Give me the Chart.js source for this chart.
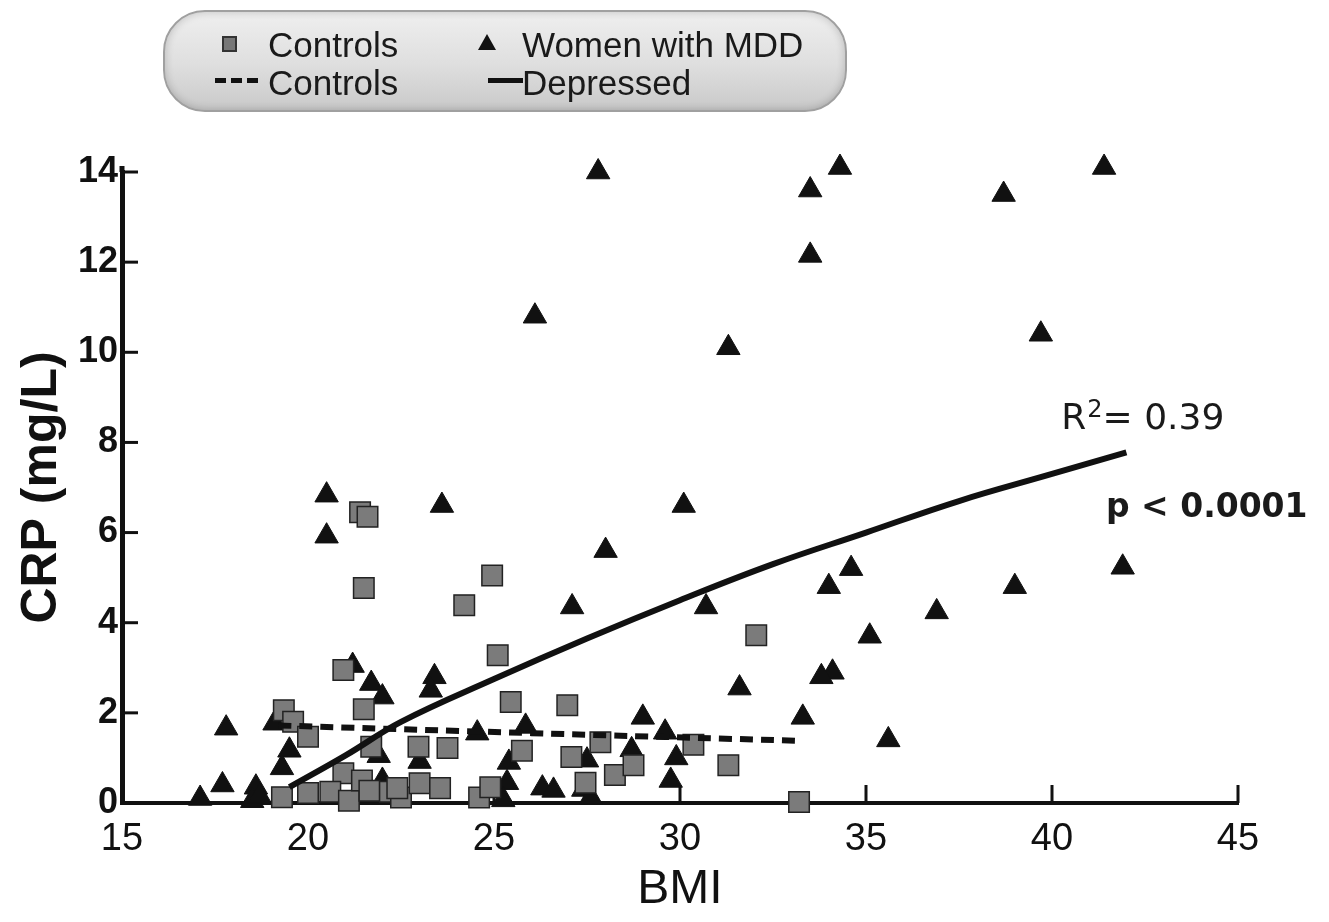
<!DOCTYPE html>
<html>
<head>
<meta charset="utf-8">
<script src="https://cdn.jsdelivr.net/npm/chart.js@4.4.1/dist/chart.umd.min.js"></script>
<style>
  body { margin: 0; background: #fff; font-family: "Liberation Sans", Arial, sans-serif; }
  #wrap { position: relative; width: 1329px; height: 922px; }
  #chart { position: absolute; left: 0; top: 0; }
  .legend {
    position: absolute; left: 163px; top: 10px; width: 680px; height: 98px;
    border: 2px solid #a0a0a0; border-radius: 42px;
    background: linear-gradient(to bottom, #efefef 0%, #dedede 55%, #c9c9c9 100%);
    box-shadow: inset 0 0 8px rgba(0,0,0,0.2);
  }
  .legend span { position: absolute; font-size: 35px; color: #1a1a1a; line-height: 1; }
  .sq { position: absolute; width: 11px; height: 12px; background: #777; border: 2px solid #333; }
  .tri { position: absolute; width: 0; height: 0; border-left: 9px solid transparent;
         border-right: 9px solid transparent; border-bottom: 16px solid #111; }
  .dash { position: absolute; height: 5px;
          background: repeating-linear-gradient(to right, #111 0 11px, transparent 11px 16px); }
  .solid { position: absolute; height: 5px; background: #111; }
</style>
</head>
<body>
<div id="wrap">
  <canvas id="chart" width="1329" height="922"></canvas>
  <div class="legend">
    <div class="sq" style="left:57px; top:24px;"></div>
    <span style="left:103px; top:15px;">Controls</span>
    <div class="tri" style="left:313px; top:22px;"></div>
    <span style="left:357px; top:15px;">Women with MDD</span>
    <div class="dash" style="left:50px; top:66px; width:45px;"></div>
    <span style="left:103px; top:53px;">Controls</span>
    <div class="solid" style="left:323px; top:66px; width:35px;"></div>
    <span style="left:357px; top:53px;">Depressed</span>
  </div>
</div>
<script>
// tick values
const xTickValues = [15, 20, 25, 30, 35, 40, 45];
const yTickValues = [0, 2, 4, 6, 8, 10, 12, 14];

// Controls (squares)
const controlsBMI = [21.4, 21.6, 21.5, 24.95, 24.2, 25.1, 20.95, 32.05, 25.45, 26.97,
  19.35, 19.6, 20.0, 21.5, 21.7, 22.97, 23.75, 20.95, 19.3, 20.0,
  20.6, 21.1, 21.45, 21.65, 22.2, 22.5, 23.0, 23.55, 24.6, 24.9,
  25.75, 27.08, 27.46, 27.86, 28.25, 28.75, 30.36, 31.3, 33.2, 22.4];
const controlsCRP = [6.45, 6.35, 4.77, 5.05, 4.39, 3.28, 2.95, 3.72, 2.24, 2.17,
  2.06, 1.8, 1.47, 2.08, 1.25, 1.25, 1.22, 0.66, 0.13, 0.22,
  0.25, 0.05, 0.5, 0.27, 0.25, 0.12, 0.44, 0.33, 0.12, 0.35,
  1.16, 1.02, 0.45, 1.35, 0.62, 0.84, 1.29, 0.84, 0.02, 0.33];

// Women with MDD (triangles)
const mddBMI = [27.8, 33.5, 34.3, 38.7, 41.4, 33.5, 26.1, 31.3, 39.7, 20.5,
  20.5, 23.6, 30.1, 28.0, 41.9, 34.6, 34.0, 39.0, 36.9, 30.7,
  27.1, 35.1, 31.6, 34.1, 33.8, 35.6, 33.3, 17.8, 17.7, 17.1,
  18.6, 18.5, 18.7, 19.1, 19.5, 19.3, 21.2, 21.7, 22.0, 23.4,
  23.3, 24.55, 21.9, 23.0, 22.0, 25.85, 25.4, 25.35, 25.25, 26.3,
  26.6, 27.5, 27.4, 27.6, 29.0, 28.7, 29.6, 29.9, 29.75];
const mddCRP = [14.0, 13.6, 14.1, 13.5, 14.1, 12.15, 10.8, 10.1, 10.4, 6.83,
  5.92, 6.6, 6.6, 5.6, 5.23, 5.2, 4.8, 4.8, 4.24, 4.35,
  4.35, 3.7, 2.55, 2.9, 2.8, 1.4, 1.9, 1.66, 0.4, 0.1,
  0.35, 0.05, 0.15, 1.77, 1.17, 0.78, 3.05, 2.65, 2.35, 2.8,
  2.5, 1.55, 1.05, 0.92, 0.5, 1.7, 0.9, 0.45, 0.07, 0.33,
  0.28, 0.95, 0.3, 0.12, 1.9, 1.18, 1.57, 1.0, 0.5];

// fitted curves
const fitControlsBMI = [19.2, 26.0, 33.2];
const fitControlsCRP = [1.72, 1.55, 1.38];
const fitDepressedBMI = [19.5, 21, 22.5, 25, 27.5, 30, 32.5, 35, 37.5, 40, 42];
const fitDepressedCRP = [0.35, 1.05, 1.8, 2.75, 3.65, 4.5, 5.3, 6.0, 6.7, 7.3, 7.78];

const pts = (xs, ys) => xs.map((x, i) => ({ x: x, y: ys[i] }));

const innerTicks = {
  id: 'innerTicks',
  beforeDatasetsDraw(chart) {
    const { ctx, chartArea, scales: { x, y } } = chart;
    ctx.save();
    ctx.strokeStyle = '#111';
    ctx.lineWidth = 3;
    yTickValues.forEach(v => {
      const py = y.getPixelForValue(v);
      ctx.beginPath();
      ctx.moveTo(chartArea.left, py);
      ctx.lineTo(chartArea.left + 16, py);
      ctx.stroke();
    });
    xTickValues.forEach(v => {
      const px = x.getPixelForValue(v);
      ctx.beginPath();
      ctx.moveTo(px, chartArea.bottom);
      ctx.lineTo(px, chartArea.bottom - 18);
      ctx.stroke();
    });
    // axis runs a little past the top tick
    ctx.lineWidth = 5;
    ctx.beginPath();
    ctx.moveTo(chartArea.left, chartArea.top);
    ctx.lineTo(chartArea.left, chartArea.top - 6);
    ctx.stroke();
    ctx.restore();
  },
  afterDraw(chart) {
    const { ctx, scales: { x, y } } = chart;
    ctx.save();
    ctx.fillStyle = '#1a1a1a';
    ctx.textBaseline = 'alphabetic';
    const rx = x.getPixelForValue(40.25), ry = y.getPixelForValue(8.3);
    ctx.font = '36px "DejaVu Sans"';
    ctx.fillText('R', rx, ry);
    let w = ctx.measureText('R').width;
    ctx.font = '24px "DejaVu Sans"';
    ctx.fillText('2', rx + w + 1, ry - 12);
    w += ctx.measureText('2').width + 1;
    ctx.font = '36px "DejaVu Sans"';
    ctx.fillText('= 0.39', rx + w, ry);
    ctx.font = 'bold 33px "DejaVu Sans"';
    ctx.fillText('p < 0.0001', x.getPixelForValue(41.45), y.getPixelForValue(6.35));
    ctx.restore();
  }
};

new Chart(document.getElementById('chart'), {
  type: 'scatter',
  data: {
    datasets: [
      {
        type: 'line',
        data: pts(fitDepressedBMI, fitDepressedCRP),
        borderColor: '#111',
        borderWidth: 6,
        pointRadius: 0,
        tension: 0.4,
        fill: false,
        order: 0
      },
      {
        type: 'line',
        data: pts(fitControlsBMI, fitControlsCRP),
        borderColor: '#111',
        borderWidth: 6,
        borderDash: [13, 8],
        pointRadius: 0,
        tension: 0.4,
        fill: false,
        order: 1
      },
      {
        data: pts(controlsBMI, controlsCRP),
        pointStyle: 'rect',
        pointRadius: 14.5,
        backgroundColor: '#7b7b7b',
        borderColor: '#222',
        borderWidth: 1.5,
        clip: false,
        order: 2
      },
      {
        data: pts(mddBMI, mddCRP),
        pointStyle: 'triangle',
        pointRadius: 13.5,
        backgroundColor: '#111',
        borderColor: '#111',
        borderWidth: 1,
        clip: false,
        order: 3
      }
    ]
  },
  options: {
    responsive: false,
    animation: false,
    events: [],
    layout: { padding: { left: 0, right: 91, top: 172, bottom: 0 } },
    plugins: { legend: { display: false }, tooltip: { enabled: false } },
    scales: {
      x: {
        type: 'linear',
        min: 15, max: 45,
        afterFit: s => { s.height = 119; },
        afterBuildTicks: s => { s.ticks = xTickValues.map(v => ({ value: v })); },
        grid: { display: false, drawTicks: false },
        border: { display: true, color: '#111', width: 4 },
        ticks: { color: '#111', padding: 14, font: { family: 'Liberation Sans', size: 38 } },
        title: { display: true, text: 'BMI', color: '#111', padding: { top: 0, bottom: 3 },
                 font: { family: 'Liberation Sans', size: 48 } }
      },
      y: {
        type: 'linear',
        min: 0, max: 14,
        afterFit: s => { s.width = 122; },
        afterBuildTicks: s => { s.ticks = yTickValues.map(v => ({ value: v })); },
        grid: { display: false, drawTicks: false },
        border: { display: true, color: '#111', width: 5 },
        ticks: { color: '#111', padding: 4, font: { family: 'Liberation Sans', size: 36, weight: 'bold' } },
        title: { display: true, text: 'CRP (mg/L)', color: '#111', padding: { top: 12, bottom: 0 },
                 font: { family: 'Liberation Sans', size: 50, weight: 'bold' } }
      }
    }
  },
  plugins: [innerTicks]
});
</script>
</body>
</html>
